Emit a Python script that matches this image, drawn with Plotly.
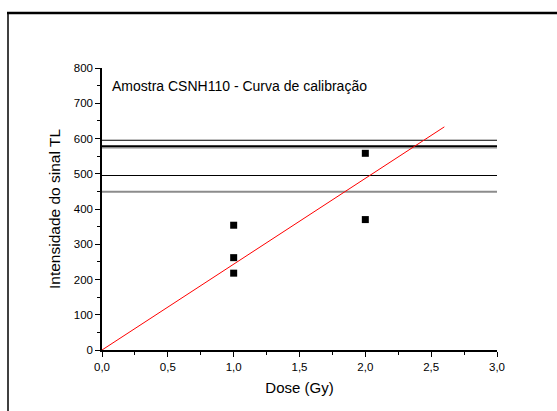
import plotly.graph_objects as go

# Data
dose = [1, 1, 1, 2, 2]
intensity = [354, 262, 218, 558, 370]
fit_x = [0, 2.6]
fit_y = [0, 633]
hline_values = [595, 578, 574, 495, 449]
hline_colors = ["black", "black", "#8c8c8c", "black", "#8c8c8c"]
hline_widths = [1.2, 2.2, 1.5, 1.2, 2.2]
hline_span = [0, 3]

fig = go.Figure()

for v, c, w in zip(hline_values, hline_colors, hline_widths):
    fig.add_trace(go.Scatter(x=hline_span, y=[v, v], mode="lines",
                             line=dict(color=c, width=w), showlegend=False,
                             hoverinfo="skip"))

fig.add_trace(go.Scatter(x=fit_x, y=fit_y, mode="lines",
                         line=dict(color="red", width=1), showlegend=False))

fig.add_trace(go.Scatter(x=dose, y=intensity, mode="markers",
                         marker=dict(symbol="square", size=7, color="black"),
                         showlegend=False))

L, R, T, B = 102, 497, 68, 350
W, H = 557, 411
pw, ph = R - L, B - T

def px(x):
    return (x - L) / pw

def py(y):
    return (B - y) / ph

font = "Liberation Sans, Arial, sans-serif"

fig.update_layout(
    width=W, height=H,
    margin=dict(l=L, r=W - R, t=T, b=H - B, pad=0),
    paper_bgcolor="white", plot_bgcolor="white",
    separators=",.",
    font=dict(family=font, color="black", size=11),
    xaxis=dict(range=[0, 3], tickvals=[0, 0.5, 1, 1.5, 2, 2.5, 3],
               tickformat=".1f", showline=True, linecolor="black", linewidth=1.5,
               ticks="outside", ticklen=5, tickwidth=1.2, tickcolor="black",
               minor=dict(dtick=0.25, ticks="outside", ticklen=3, tickwidth=1.2, tickcolor="black"),
               showgrid=False, zeroline=False,
               tickfont=dict(size=11.5),
               title=dict(text="Dose (Gy)", font=dict(size=15), standoff=11)),
    yaxis=dict(range=[0, 800], dtick=100, tick0=0,
               showline=True, linecolor="black", linewidth=1.5,
               ticks="outside", ticklen=5, tickwidth=1.2, tickcolor="black",
               minor=dict(dtick=50, ticks="outside", ticklen=3, tickwidth=1.2, tickcolor="black"),
               showgrid=False, zeroline=False,
               tickfont=dict(size=11.5),
               title=dict(text="Intensidade do sinal TL", font=dict(size=15.5), standoff=9)),
    annotations=[dict(text="Amostra CSNH110 - Curva de calibração",
                      xref="paper", yref="paper", x=px(110), y=py(86),
                      xanchor="left", yanchor="middle", showarrow=False,
                      font=dict(size=14, color="black"))],
    shapes=[
        dict(type="line", xref="paper", yref="paper",
             x0=px(7), x1=px(557), y0=py(13), y1=py(13),
             line=dict(color="black", width=2.5)),
        dict(type="line", xref="paper", yref="paper",
             x0=px(8), x1=px(8), y0=py(13), y1=py(411),
             line=dict(color="black", width=1.5)),
    ],
)

fig.write_html("out.html")
